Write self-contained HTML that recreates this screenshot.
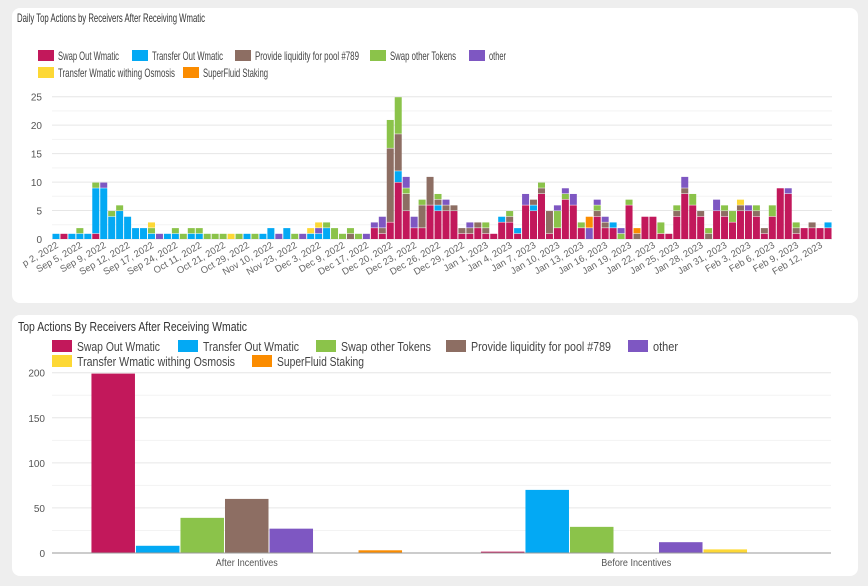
<!DOCTYPE html>
<html><head><meta charset="utf-8"><style>
html,body{margin:0;background:#eeeeee;font-family:"Liberation Sans",sans-serif;overflow:hidden}
svg{display:block}
svg text{font-family:"Liberation Sans",sans-serif}
</style></head><body>
<svg id="s" width="868" height="586" xmlns="http://www.w3.org/2000/svg">
<rect x="12" y="8" width="846" height="295" rx="8" fill="#fff"/>
<rect x="12" y="315" width="846" height="261" rx="8" fill="#fff"/>
<text x="17" y="22" font-size="12" fill="#333" textLength="188" lengthAdjust="spacingAndGlyphs">Daily Top Actions by Receivers After Receiving Wmatic</text>
<text x="18" y="331" font-size="13" fill="#333" textLength="229" lengthAdjust="spacingAndGlyphs">Top Actions By Receivers After Receiving Wmatic</text>
<g id="topG"></g><g id="botG"></g>
</svg>
<script>
const seriesNames=["Swap Out Wmatic","Transfer Out Wmatic","Provide liquidity for pool #789","Swap other Tokens","other","Transfer Wmatic withing Osmosis","SuperFluid Staking"];
const seriesColors=["#c2185b","#03a9f4","#8d6e63","#8bc34a","#7e57c2","#fdd835","#fb8c00"];
// daily stacks: [swap, transfer, provide, swapOther, other, transferOsmosis, superfluid]
const daily=[
[0,1,0,0,0,0,0],[1,0,0,0,0,0,0],[0,1,0,0,0,0,0],[0,1,0,1,0,0,0],[0,1,0,0,0,0,0],[1,8,0,1,0,0,0],[0,9,0,0,1,0,0],[0,4,0,1,0,0,0],[0,5,0,1,0,0,0],[0,4,0,0,0,0,0],
[0,2,0,0,0,0,0],[0,2,0,0,0,0,0],[0,1,0,1,0,1,0],[0,0,0,0,1,0,0],[0,1,0,0,0,0,0],[0,1,0,1,0,0,0],[0,0,0,1,0,0,0],[0,1,0,1,0,0,0],[0,1,0,1,0,0,0],[0,0,0,1,0,0,0],
[0,0,0,1,0,0,0],[0,0,0,1,0,0,0],[0,0,0,0,0,1,0],[0,0,0,1,0,0,0],[0,1,0,0,0,0,0],[0,0,0,1,0,0,0],[0,1,0,0,0,0,0],[0,2,0,0,0,0,0],[0,0,0,0,1,0,0],[0,2,0,0,0,0,0],
[0,0,0,1,0,0,0],[0,0,0,0,1,0,0],[0,1,0,0,0,1,0],[0,1,0,0,1,1,0],[0,2,0,1,0,0,0],[0,0,0,2,0,0,0],[0,0,0,1,0,0,0],[0,0,1,1,0,0,0],[0,0,0,1,0,0,0],[0,0,0,0,1,0,0],
[2,0,0,0,1,0,0],[1,0,1,0,2,0,0],[3,0,13,5,0,0,0],[10,2,6.5,6.5,0,0,0],[5,0,3,1,2,0,0],[2,0,0,0,2,0,0],[2,0,4,1,0,0,0],[6,0,5,0,0,0,0],[5,1,1,1,0,0,0],[5,0,1,0,1,0,0],
[5,0,1,0,0,0,0],[1,0,1,0,0,0,0],[1,0,1,0,1,0,0],[2,0,1,0,0,0,0],[1,0,1,1,0,0,0],[1,0,0,0,0,0,0],[3,1,0,0,0,0,0],[3,0,1,1,0,0,0],[1,1,0,0,0,0,0],[6,0,0,0,2,0,0],
[5,1,1,0,0,0,0],[8,0,1,1,0,0,0],[1,0,4,0,0,0,0],[2,0,0,3,1,0,0],[7,0,0,1,1,0,0],[6,0,0,0,2,0,0],[2,0,0,1,0,0,0],[0,0,0,0,2,0,2],[4,0,1,1,1,0,0],[2,0,1,0,1,0,0],
[2,1,0,0,0,0,0],[0,0,0,1,1,0,0],[6,0,0,1,0,0,0],[0,0,1,0,0,0,1],[4,0,0,0,0,0,0],[4,0,0,0,0,0,0],[1,0,0,2,0,0,0],[1,0,0,0,0,0,0],[4,0,1,1,0,0,0],[8,0,1,0,2,0,0],
[6,0,0,2,0,0,0],[4,0,1,0,0,0,0],[0,0,1,1,0,0,0],[5,0,0,0,2,0,0],[4,0,1,1,0,0,0],[3,0,0,2,0,0,0],[5,0,1,0,0,1,0],[5,0,0,0,1,0,0],[4,0,1,1,0,0,0],[1,0,1,0,0,0,0],
[4,0,0,2,0,0,0],[9,0,0,0,0,0,0],[8,0,0,0,1,0,0],[1,0,1,1,0,0,0],[2,0,0,0,0,0,0],[2,0,1,0,0,0,0],[2,0,0,0,0,0,0],[2,1,0,0,0,0,0]];
const dateLabels=["p 2, 2022","Sep 5, 2022","Sep 9, 2022","Sep 12, 2022","Sep 17, 2022","Sep 24, 2022","Oct 11, 2022","Oct 21, 2022","Oct 29, 2022","Nov 10, 2022","Nov 23, 2022","Dec 3, 2022","Dec 9, 2022","Dec 17, 2022","Dec 20, 2022","Dec 23, 2022","Dec 26, 2022","Dec 29, 2022","Jan 1, 2023","Jan 4, 2023","Jan 7, 2023","Jan 10, 2023","Jan 13, 2023","Jan 16, 2023","Jan 19, 2023","Jan 22, 2023","Jan 25, 2023","Jan 28, 2023","Jan 31, 2023","Feb 3, 2023","Feb 6, 2023","Feb 9, 2023","Feb 12, 2023"];
const topTicks=[0,5,10,15,20,25];
const groupCats=["After Incentives","Before Incentives"];
const groupOrder=[0,1,3,2,4,5,6];
const groupValues=[[199,8,60,39,27,0.5,3],[1.5,70,0,29,12,4,0]];
const botTicks=[0,50,100,150,200];

const NS="http://www.w3.org/2000/svg";
function mk(p,tag,a){const e=document.createElementNS(NS,tag);for(const k in a)e.setAttribute(k,a[k]);p.appendChild(e);return e;}
const topG=document.getElementById('topG'),botG=document.getElementById('botG');

// TOP chart
const tx0=52,tx1=832,ty0=239,ty1=96.7,tmax=25;
const tY=v=>ty0-(v/tmax)*(ty0-ty1);
const step=(tx1-tx0)/daily.length;
const tX=i=>tx0+step*(i+0.5);
for(let v=0;v<=tmax;v+=2.5){const l=mk(topG,'line',{x1:tx0,x2:tx1,y1:tY(v),y2:tY(v),stroke:v%5===0?'#e6e6e6':'#f3f3f3'});

}
topTicks.forEach(v=>{const t=mk(topG,'text',{x:42,y:tY(v)+4,'font-size':10,fill:'#555','text-anchor':'end'});t.textContent=v;

});
daily.forEach((d,i)=>{let acc=0;d.forEach((v,s)=>{if(v<=0)return;const y1=tY(acc),y2=tY(acc+v);
const r=mk(topG,'rect',{x:tX(i)-3.5,y:y2+0.5,width:7,height:Math.max(0,y1-y2-0.5),fill:seriesColors[s]});


acc+=v;});});
dateLabels.forEach((l,k)=>{const x=tX(k*3)+3,y=247;const t=mk(topG,'text',{x:x,y:y,'font-size':9.5,fill:'#666','text-anchor':'end',transform:`rotate(-30 ${x} ${y})`});t.textContent=l;

});
// top legend: [x, y, series, text width]
const tl=[[38,56,0,61],[132,56,1,71],[235,56,2,104],[370,56,3,66],[469,56,4,17],[38,73,5,117],[183,73,6,65]];
tl.forEach(([x,y,s,w])=>{const g=mk(topG,'g',{});


mk(g,'rect',{x:x,y:y-6,width:16,height:11,fill:seriesColors[s]});
const t=mk(g,'text',{x:x+20,y:y+4,'font-size':12,fill:'#444',textLength:w,lengthAdjust:'spacingAndGlyphs'});t.textContent=seriesNames[s];});

// BOTTOM chart
const bx0=52,bx1=831,by0=553,by1=372.7,bmax=200;
const bY=v=>by0-(v/bmax)*(by0-by1);
for(let v=0;v<=bmax;v+=25){const l=mk(botG,'line',{x1:bx0,x2:bx1,y1:bY(v),y2:bY(v),stroke:v%50===0?'#e6e6e6':'#f3f3f3'});

}
botTicks.forEach(v=>{const t=mk(botG,'text',{x:45,y:bY(v)+4,'font-size':10,fill:'#555','text-anchor':'end'});t.textContent=v;

});
const cw=(bx1-bx0)/groupCats.length,gw=cw*0.8,bw=gw/groupOrder.length;
groupCats.forEach((c,ci)=>{const gx=bx0+cw*ci+(cw-gw)/2;
groupOrder.forEach((s,j)=>{const v=groupValues[ci][s];if(v<=0)return;
const r=mk(botG,'rect',{x:gx+j*bw+0.5,y:bY(v),width:bw-1,height:by0-bY(v),fill:seriesColors[s]});

});
const t=mk(botG,'text',{x:bx0+cw*(ci+0.5),y:566,'font-size':10,fill:'#555','text-anchor':'middle',textLength:ci===0?62:70,lengthAdjust:'spacingAndGlyphs'});t.textContent=c;

});
const ax=mk(botG,'line',{x1:bx0,x2:bx1,y1:by0,y2:by0,stroke:'#999'});


const bl=[[52,346,0,83],[178,346,1,96],[316,346,3,90],[446,346,2,140],[628,346,4,25],[52,361,5,158],[252,361,6,87]];
bl.forEach(([x,y,s,w])=>{const g=mk(botG,'g',{});


mk(g,'rect',{x:x,y:y-6,width:20,height:12,fill:seriesColors[s]});
const t=mk(g,'text',{x:x+25,y:y+5,'font-size':13,fill:'#444',textLength:w,lengthAdjust:'spacingAndGlyphs'});t.textContent=seriesNames[s];});
</script>
</body></html>
